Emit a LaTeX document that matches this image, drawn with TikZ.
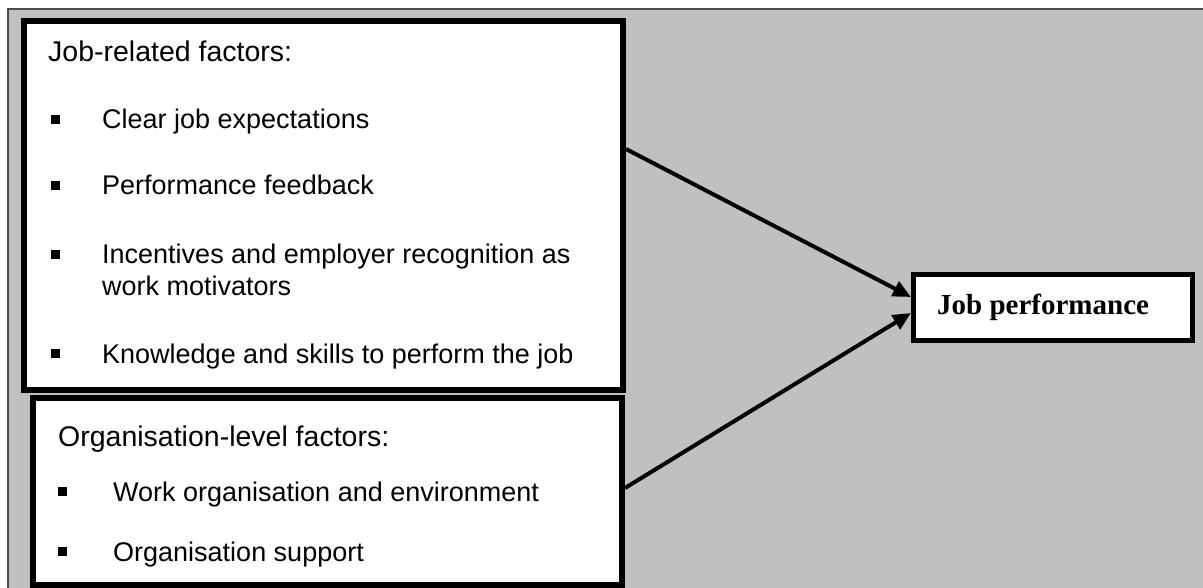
\documentclass[tikz,border=0pt]{standalone}
\usepackage{fontspec}
\setmainfont{Liberation Sans}
\newfontfamily\serifb{Liberation Serif}
\usetikzlibrary{arrows.meta}
\definecolor{bggray}{HTML}{C0C0C0}
\definecolor{edgegray}{HTML}{4A4A4A}
\begin{document}
\begin{tikzpicture}[x=1pt,y=-1pt,
  box/.style={draw=black, fill=white, line width=6pt, inner sep=0pt},
  txt/.style={anchor=base west, inner sep=0pt, font=\fontsize{27}{32}\selectfont},
  ttl/.style={anchor=base west, inner sep=0pt, font=\fontsize{28.5}{33}\selectfont},
  bul/.style={fill=black, minimum size=9pt, inner sep=0pt},
  arr/.style={line width=4pt, -{Triangle[length=18pt,width=16pt]}}]
\useasboundingbox (0,0) rectangle (1203,588);
\clip (0,0) rectangle (1203,588);
\fill[white] (0,0) rectangle (1203,588);
\path[draw=edgegray, fill=bggray, line width=2pt] (8,9) rectangle (1215,600);

% boxes
\node[box, minimum width=599.5pt, minimum height=369pt] (jobf) at (323.25,205.5) {};
\node[box, minimum width=589pt, minimum height=187pt] (orgf) at (327.5,491.5) {};
\node[box, line width=5pt, minimum width=279pt, minimum height=66pt] (jp) at (1053,307.5) {};

% top box text
\node[ttl] (t1) at (48,62) {Job-related factors:};
\node[bul] (b1) at (55,119.5) {};
\node[txt] (i1) at (102,129) {Clear job expectations};
\node[bul] (b2) at (55,185.5) {};
\node[txt] (i2) at (102,195) {Performance feedback};
\node[bul] (b3) at (55,254.5) {};
\node[txt] (i3) at (102,264) {Incentives and employer recognition as};
\node[txt] (i3b) at (102,295) {work motivators};
\node[bul] (b4) at (55,353.5) {};
\node[txt] (i4) at (102,363) {Knowledge and skills to perform the job};

% bottom box text
\node[ttl] (t2) at (58,446) {Organisation-level factors:};
\node[bul] (b5) at (62,491.5) {};
\node[txt] (i5) at (113,501) {Work organisation and environment};
\node[bul] (b6) at (62,551.5) {};
\node[txt] (i6) at (113,561) {Organisation support};

% job performance
\node[anchor=base west, inner sep=0pt, font=\serifb\bfseries\fontsize{29}{34}\selectfont] (jpt) at (937,315) {Job performance};

% arrows
\coordinate (s1) at (jobf.east |- 0,149);
\coordinate (e1) at (jp.west |- 0,297);
\coordinate (s2) at (orgf.east |- 0,488);
\coordinate (e2) at (jp.west |- 0,313);
\draw[arr] (s1) -- (e1);
\draw[arr] (s2) -- (e2);
\end{tikzpicture}
\end{document}
